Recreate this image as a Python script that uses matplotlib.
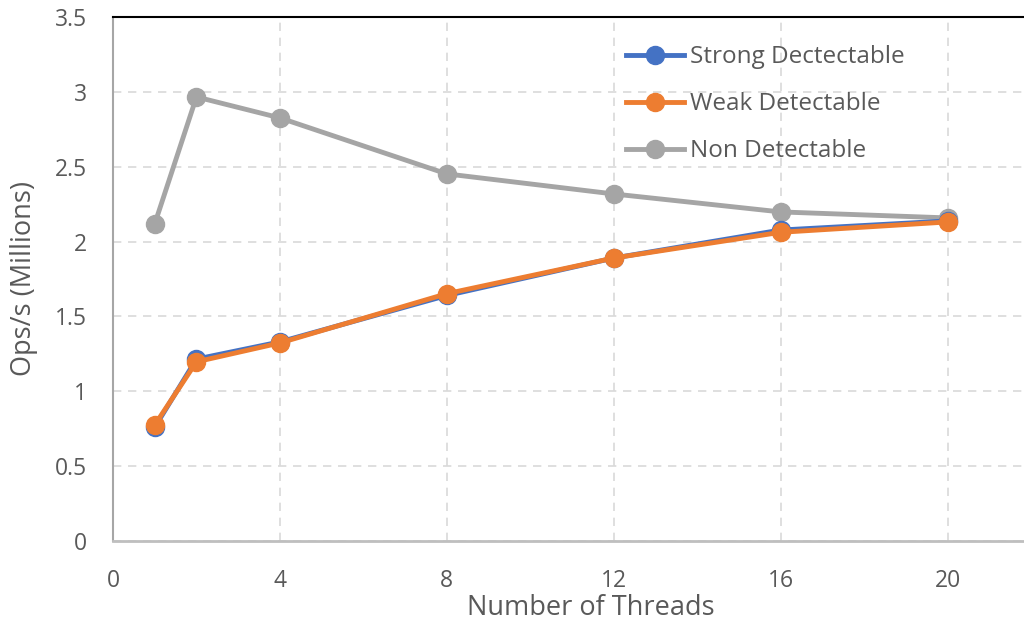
import matplotlib
matplotlib.use("Agg")
import matplotlib.pyplot as plt

threads = [1, 2, 4, 8, 12, 16, 20]
strong = [0.76, 1.215, 1.33, 1.64, 1.89, 2.077, 2.138]
weak = [0.775, 1.197, 1.323, 1.652, 1.89, 2.062, 2.131]
non_det = [2.118, 2.966, 2.826, 2.452, 2.318, 2.198, 2.158]

x_ticks = [0, 4, 8, 12, 16, 20]
y_ticks = [0, 0.5, 1, 1.5, 2, 2.5, 3, 3.5]
y_labels = ['0', '0.5', '1', '1.5', '2', '2.5', '3', '3.5']

plt.rcParams['font.family'] = ['Open Sans', 'DejaVu Sans']
txt = '#595959'

fig = plt.figure(figsize=(10.24, 6.24), dpi=100)
ax = fig.add_axes([113/1024, 83/624, 918/1024, 524/624])

ax.plot(threads, strong, '-o', color='#4472C4', lw=3.5, ms=13, label='Strong Dectectable', zorder=3)
ax.plot(threads, weak, '-o', color='#ED7D31', lw=3.5, ms=13, label='Weak Detectable', zorder=4)
ax.plot(threads, non_det, '-o', color='#A5A5A5', lw=3.5, ms=13, label='Non Detectable', zorder=2)

ax.set_xlim(0, 22)
ax.set_ylim(0, 3.5)
ax.set_xticks(x_ticks)
ax.set_yticks(y_ticks)
ax.set_yticklabels(y_labels)
ax.tick_params(length=0, labelsize=16.5, colors=txt)
ax.tick_params(axis='y', pad=19)
ax.tick_params(axis='x', pad=20)
ax.grid(True, ls=(0, (5, 4)), color='#d9d9d9', lw=1.2)
ax.set_axisbelow(True)

ax.spines['top'].set_color('black')
ax.spines['top'].set_linewidth(1.5)
ax.spines['left'].set_color('#a6a6a6')
ax.spines['left'].set_linewidth(1.5)
ax.spines['bottom'].set_color('#bfbfbf')
ax.spines['bottom'].set_linewidth(2)
ax.spines['right'].set_visible(False)

ax.set_xlabel('Number of Threads', fontsize=19.5, color=txt)
ax.xaxis.set_label_coords(0.52, -0.102)
ax.set_ylabel('Ops/s (Millions)', fontsize=19.5, color=txt)
ax.yaxis.set_label_coords(-0.082, 0.5)

leg = ax.legend(loc='upper left', bbox_to_anchor=(0.548, 0.965), frameon=False,
                fontsize=17.5, handlelength=2.4, handletextpad=0.25, labelspacing=0.95,
                borderaxespad=0)
for t in leg.get_texts():
    t.set_color(txt)

plt.savefig('out.png', dpi=100)
